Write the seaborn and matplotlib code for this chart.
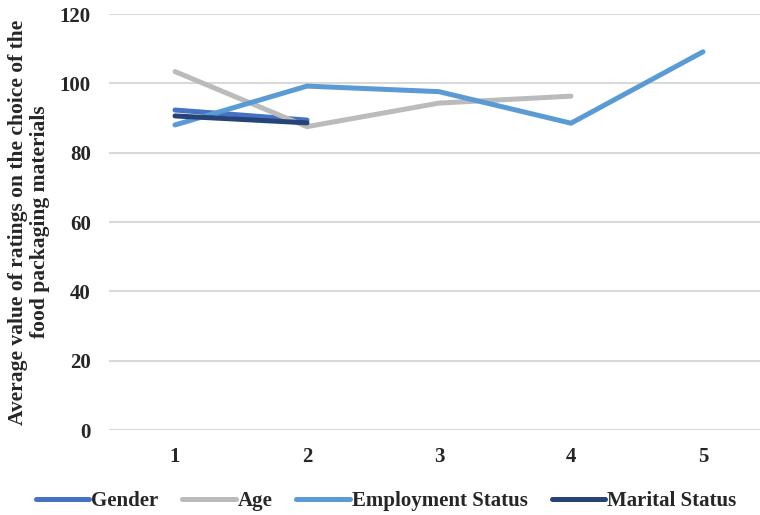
import pandas as pd
import seaborn as sns
import matplotlib.pyplot as plt

# values (None = no point)
categories = [1, 2, 3, 4, 5]
gender = [92.3, 89.4, None, None, None]
age = [103.4, 87.5, 94.3, 96.3, None]
employment = [88.0, 99.2, 97.6, 88.5, 109.1]
marital = [90.6, 88.6, None, None, None]

series_names = ['Gender', 'Age', 'Employment Status', 'Marital Status']
colors = ['#4472C4', '#BBBBBB', '#5B9BD5', '#264478']
y_ticks = [0, 20, 40, 60, 80, 100, 120]

rows = []
for name, vals in zip(series_names, [gender, age, employment, marital]):
    for c, v in zip(categories, vals):
        if v is not None:
            rows.append({'category': c, 'value': v, 'series': name})
df = pd.DataFrame(rows)

sns.set_style('white')
plt.rcParams['font.family'] = ['Liberation Serif', 'DejaVu Serif']
plt.rcParams['font.weight'] = 'bold'

fig = plt.figure(figsize=(7.6, 5.15), dpi=100)
ax = fig.add_axes([109 / 760, (515 - 430) / 515, 660 / 760, 416 / 515])

for y in y_ticks:
    ax.axhline(y, color='#D9D9D9', lw=1.5, zorder=0)

sns.lineplot(data=df, x='category', y='value', hue='series', hue_order=series_names,
             palette=colors, linewidth=3.6, ax=ax, legend=False,
             solid_capstyle='round', sort=True)

ax.set_xlim(0.5, 5.5)
ax.set_ylim(0, 120)
ax.set_xticks(categories)
ax.set_xticklabels([str(c) for c in categories], fontsize=15, fontweight='bold')
ax.set_yticks(y_ticks)
ax.set_yticklabels([str(t) for t in y_ticks], fontsize=15, fontweight='bold')
ax.tick_params(axis='both', length=0)
ax.tick_params(axis='x', pad=12)
ax.tick_params(axis='y', pad=13)
ax.set_xlabel('')
ax.set_ylabel('Average value of ratings on the choice of the\nfood packaging materials',
              fontsize=15.5, fontweight='bold', linespacing=1.1)
ax.yaxis.set_label_coords(-0.09, 0.5)
for s in ax.spines.values():
    s.set_visible(False)

handles = [plt.Line2D([], [], color=c, lw=3.6) for c in colors]
fig.legend(handles, series_names, loc='center', bbox_to_anchor=(386 / 760, 1 - 501 / 515),
           ncol=4, frameon=False, handlelength=2.55, handletextpad=0.1, columnspacing=1.15,
           prop={'size': 15, 'weight': 'bold'})

fig.savefig('out.png', dpi=100)
